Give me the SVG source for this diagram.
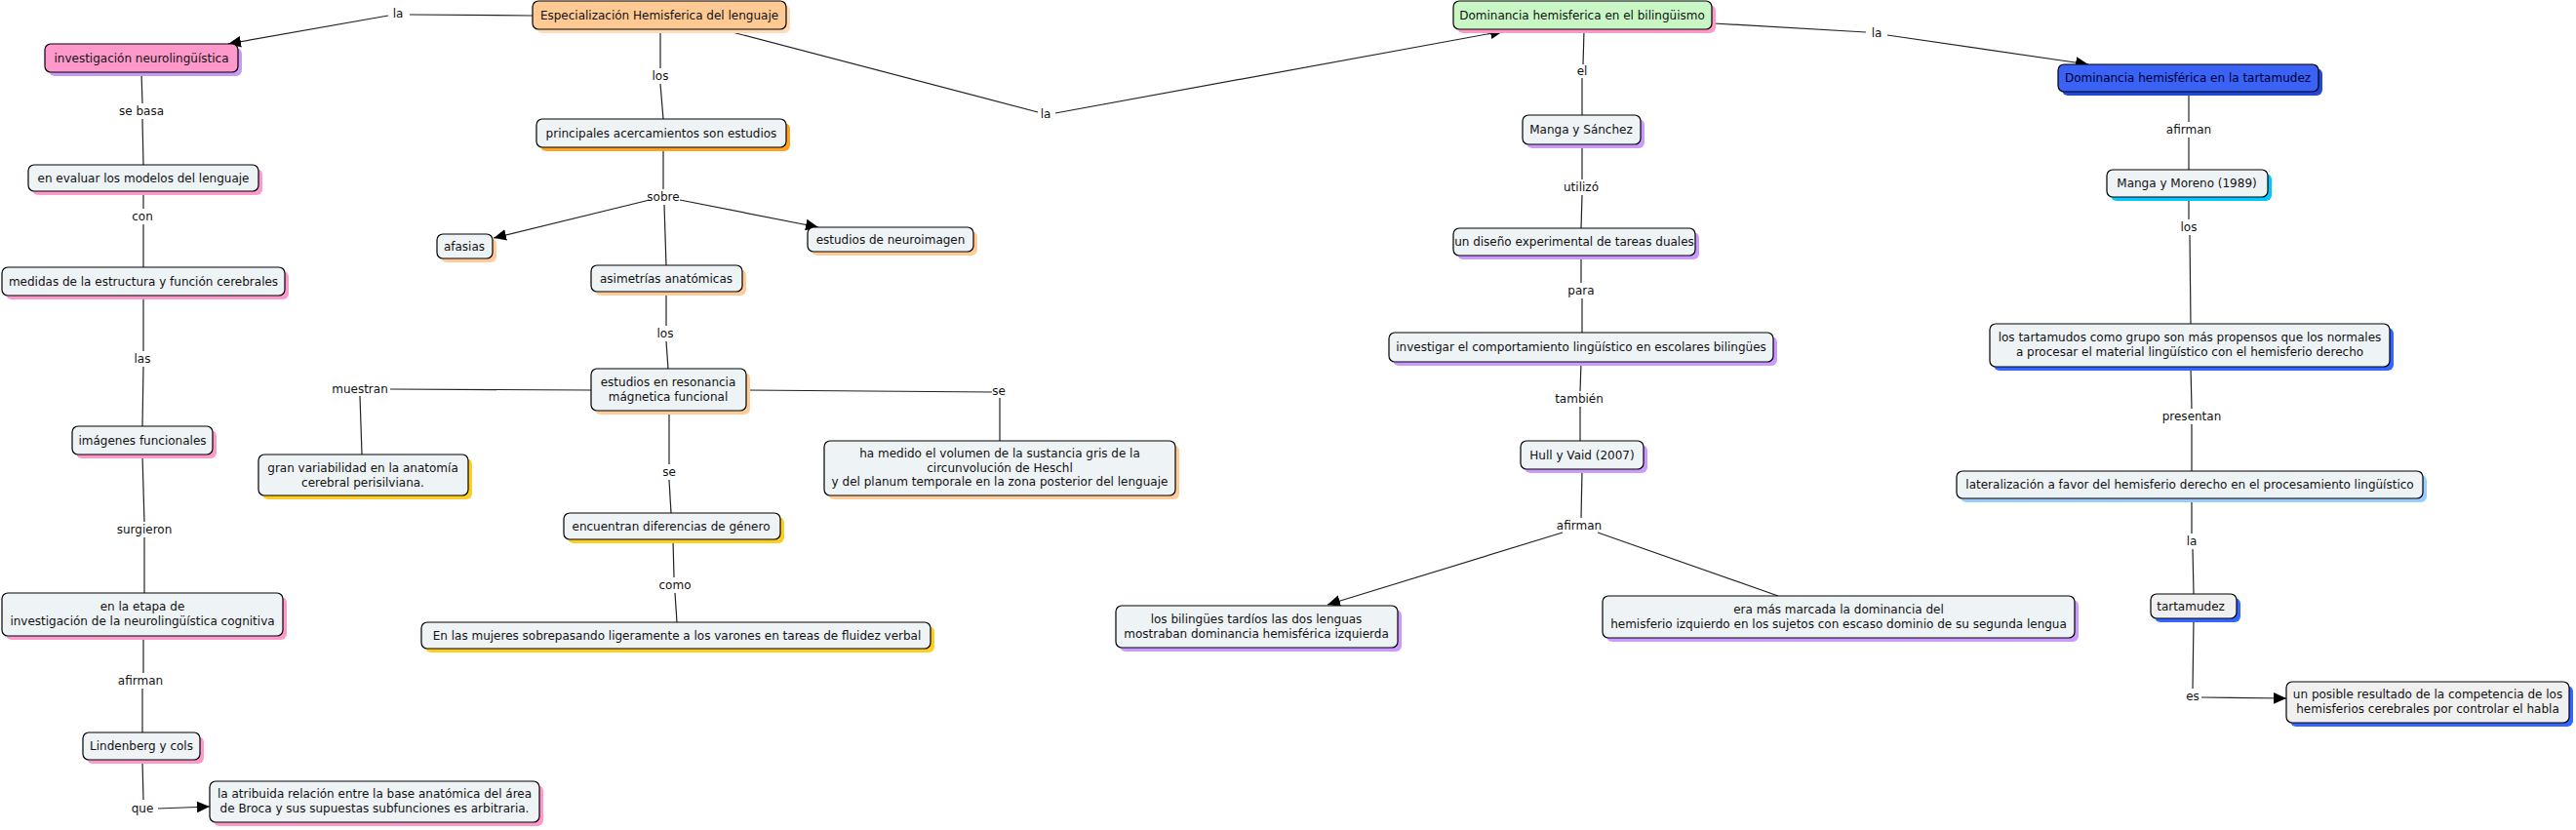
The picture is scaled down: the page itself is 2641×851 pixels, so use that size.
<svg xmlns="http://www.w3.org/2000/svg" width="2641" height="851" viewBox="0 0 2641 851">
<style>
text{font-family:"DejaVu Sans",Verdana,sans-serif;font-size:12px;fill:#111;text-anchor:middle}
.b{fill:#eef3f6;stroke:#000;stroke-width:1.2}
.s{stroke:none}
.c line{stroke:#222;stroke-width:1.2}
.lab{fill:#111}
</style>
<defs>
<marker id="arr" viewBox="0 0 10 10" refX="10" refY="5" markerWidth="13" markerHeight="13" markerUnits="userSpaceOnUse" orient="auto"><path d="M0,0.5 L10,5 L0,9.5 z" fill="#000"/></marker>
</defs>
<rect width="2641" height="851" fill="#fff"/>

<g id="connectors" class="c">
<line x1="546" y1="16" x2="420" y2="15"/>
<line x1="398" y1="16" x2="234" y2="45" marker-end="url(#arr)"/>
<line x1="677" y1="31" x2="677" y2="70"/>
<line x1="677" y1="86" x2="680" y2="122"/>
<line x1="680" y1="152" x2="680" y2="194"/>
<line x1="666" y1="205" x2="506" y2="244" marker-end="url(#arr)"/>
<line x1="697" y1="205" x2="839" y2="233" marker-end="url(#arr)"/>
<line x1="681" y1="210" x2="683" y2="272"/>
<line x1="683" y1="300" x2="683" y2="334"/>
<line x1="683" y1="350" x2="685" y2="378"/>
<line x1="606" y1="400" x2="400" y2="399"/>
<line x1="369" y1="406" x2="371" y2="466"/>
<line x1="766" y1="400" x2="1017" y2="402"/>
<line x1="1025" y1="408" x2="1025" y2="452"/>
<line x1="686" y1="422" x2="686" y2="476"/>
<line x1="686" y1="492" x2="688" y2="526"/>
<line x1="690" y1="554" x2="691" y2="592"/>
<line x1="692" y1="608" x2="694" y2="638"/>
<line x1="145" y1="75" x2="146" y2="106"/>
<line x1="146" y1="122" x2="147" y2="169"/>
<line x1="147" y1="197" x2="147" y2="214"/>
<line x1="147" y1="230" x2="147" y2="274"/>
<line x1="147" y1="304" x2="147" y2="360"/>
<line x1="147" y1="376" x2="146" y2="437"/>
<line x1="146" y1="467" x2="148" y2="535"/>
<line x1="148" y1="551" x2="148" y2="608"/>
<line x1="147" y1="653" x2="147" y2="690"/>
<line x1="146" y1="706" x2="146" y2="751"/>
<line x1="146" y1="780" x2="147" y2="820"/>
<line x1="162" y1="829" x2="215" y2="827" marker-end="url(#arr)"/>
<line x1="743" y1="31" x2="1064" y2="115"/>
<line x1="1082" y1="116" x2="1541" y2="32" marker-end="url(#arr)"/>
<line x1="1624" y1="31" x2="1623" y2="66"/>
<line x1="1622" y1="80" x2="1622" y2="118"/>
<line x1="1622" y1="149" x2="1622" y2="184"/>
<line x1="1622" y1="200" x2="1621" y2="234"/>
<line x1="1621" y1="263" x2="1621" y2="290"/>
<line x1="1622" y1="306" x2="1622" y2="341"/>
<line x1="1621" y1="372" x2="1620" y2="401"/>
<line x1="1620" y1="417" x2="1620" y2="452"/>
<line x1="1622" y1="482" x2="1621" y2="531"/>
<line x1="1602" y1="546" x2="1361" y2="620" marker-end="url(#arr)"/>
<line x1="1638" y1="546" x2="1823" y2="611"/>
<line x1="1757" y1="24" x2="1913" y2="33"/>
<line x1="1935" y1="36" x2="2141" y2="66" marker-end="url(#arr)"/>
<line x1="2244" y1="95" x2="2244" y2="125"/>
<line x1="2244" y1="141" x2="2244" y2="174"/>
<line x1="2244" y1="203" x2="2244" y2="225"/>
<line x1="2245" y1="241" x2="2246" y2="332"/>
<line x1="2246" y1="377" x2="2247" y2="419"/>
<line x1="2247" y1="435" x2="2247" y2="483"/>
<line x1="2247" y1="512" x2="2247" y2="547"/>
<line x1="2248" y1="563" x2="2249" y2="609"/>
<line x1="2249" y1="635" x2="2248" y2="706"/>
<line x1="2257" y1="715" x2="2344" y2="716" marker-end="url(#arr)"/>
</g>

<g id="labels" class="lab">
<text x="408" y="18">la</text>
<text x="677" y="82">los</text>
<text x="680" y="206">sobre</text>
<text x="682" y="346">los</text>
<text x="369" y="403">muestran</text>
<text x="1024" y="405">se</text>
<text x="686" y="488">se</text>
<text x="692" y="604">como</text>
<text x="145" y="118">se basa</text>
<text x="146" y="226">con</text>
<text x="146" y="372">las</text>
<text x="148" y="547">surgieron</text>
<text x="144" y="702">afirman</text>
<text x="146" y="833">que</text>
<text x="1072" y="121">la</text>
<text x="1622" y="77">el</text>
<text x="1621" y="196">utilizó</text>
<text x="1621" y="302">para</text>
<text x="1619" y="413">también</text>
<text x="1619" y="543">afirman</text>
<text x="1924" y="38">la</text>
<text x="2244" y="137">afirman</text>
<text x="2244" y="237">los</text>
<text x="2247" y="431">presentan</text>
<text x="2247" y="559">la</text>
<text x="2248" y="718">es</text>
</g>

<g id="n-esp"><rect class="s" x="550" y="5" width="260" height="29" rx="6" fill="#ffdcb5"/><rect x="546" y="1" width="260" height="29" rx="6" fill="#ffc993" stroke="#000" stroke-width="1.2"/><text x="676" y="20">Especialización Hemisferica del lenguaje</text></g>
<g id="n-inv"><rect class="s" x="50" y="49" width="198" height="29" rx="6" fill="#c69cf2"/><rect x="46" y="45" width="198" height="29" rx="6" fill="#ff99cc" stroke="#000" stroke-width="1.2"/><text x="145" y="64">investigación neurolingüística</text></g>
<g id="n-prin"><rect class="s" x="554" y="126" width="256" height="29" rx="6" fill="#ffa21f"/><rect class="b" x="550" y="122" width="256" height="29" rx="6"/><text x="678" y="141">principales acercamientos son estudios</text></g>
<g id="n-afa"><rect class="s" x="452" y="244" width="57" height="25" rx="6" fill="#ffcc99"/><rect class="b" x="448" y="240" width="57" height="25" rx="6"/><text x="476" y="257">afasias</text></g>
<g id="n-neuro"><rect class="s" x="832" y="237" width="170" height="25" rx="6" fill="#ffcc99"/><rect class="b" x="828" y="233" width="170" height="25" rx="6"/><text x="913" y="250">estudios de neuroimagen</text></g>
<g id="n-asim"><rect class="s" x="610" y="276" width="155" height="27" rx="6" fill="#ffcc99"/><rect class="b" x="606" y="272" width="155" height="27" rx="6"/><text x="683" y="290">asimetrías anatómicas</text></g>
<g id="n-reso"><rect class="s" x="610" y="382" width="159" height="43" rx="6" fill="#ffcc99"/><rect class="b" x="606" y="378" width="159" height="43" rx="6"/><text x="685" y="396">estudios en resonancia</text><text x="685" y="411">mágnetica funcional</text></g>
<g id="n-gran"><rect class="s" x="269" y="470" width="215" height="42" rx="6" fill="#ffcc22"/><rect class="b" x="265" y="466" width="215" height="42" rx="6"/><text x="372" y="484">gran variabilidad en la anatomía</text><text x="372" y="499">cerebral perisilviana.</text></g>
<g id="n-hamedido"><rect class="s" x="849" y="456" width="360" height="56" rx="6" fill="#ffcc99"/><rect class="b" x="845" y="452" width="360" height="56" rx="6"/><text x="1025" y="469">ha medido el volumen de la sustancia gris de la</text><text x="1025" y="484">circunvolución de Heschl</text><text x="1025" y="498">y del planum temporale en la zona posterior del lenguaje</text></g>
<g id="n-encu"><rect class="s" x="582" y="530" width="222" height="27" rx="6" fill="#ffcc22"/><rect class="b" x="578" y="526" width="222" height="27" rx="6"/><text x="688" y="544">encuentran diferencias de género</text></g>
<g id="n-mujeres"><rect class="s" x="436" y="642" width="522" height="27" rx="6" fill="#ffcc22"/><rect class="b" x="432" y="638" width="522" height="27" rx="6"/><text x="694" y="656"> En las mujeres sobrepasando ligeramente a los varones en tareas de fluidez verbal</text></g>
<g id="n-eval"><rect class="s" x="33" y="173" width="236" height="27" rx="6" fill="#ff99cc"/><rect class="b" x="29" y="169" width="236" height="27" rx="6"/><text x="147" y="187">en evaluar los modelos del lenguaje</text></g>
<g id="n-medidas"><rect class="s" x="6" y="278" width="290" height="29" rx="6" fill="#ff99cc"/><rect class="b" x="2" y="274" width="290" height="29" rx="6"/><text x="147" y="293">medidas de la estructura y función cerebrales</text></g>
<g id="n-imag"><rect class="s" x="78" y="441" width="144" height="29" rx="6" fill="#ff99cc"/><rect class="b" x="74" y="437" width="144" height="29" rx="6"/><text x="146" y="456">imágenes funcionales</text></g>
<g id="n-etapa"><rect class="s" x="6" y="612" width="288" height="44" rx="6" fill="#ff99cc"/><rect class="b" x="2" y="608" width="288" height="44" rx="6"/><text x="146" y="626">en la etapa de</text><text x="146" y="641">investigación de la neurolingüística cognitiva</text></g>
<g id="n-linden"><rect class="s" x="89" y="755" width="120" height="28" rx="6" fill="#ff99cc"/><rect class="b" x="85" y="751" width="120" height="28" rx="6"/><text x="145" y="769">Lindenberg y cols</text></g>
<g id="n-atrib"><rect class="s" x="219" y="805" width="338" height="42" rx="6" fill="#ff99cc"/><rect class="b" x="215" y="801" width="338" height="42" rx="6"/><text x="384" y="818">la atribuida relación entre la base anatómica del área</text><text x="384" y="833">de Broca y sus supuestas subfunciones es arbitraria.</text></g>
<g id="n-bil"><rect class="s" x="1494" y="5" width="265" height="29" rx="6" fill="#ff99cc"/><rect x="1490" y="1" width="265" height="29" rx="6" fill="#c8f7c5" stroke="#000" stroke-width="1.2"/><text x="1622" y="20">Dominancia hemisferica en el bilingüismo</text></g>
<g id="n-mangaS"><rect class="s" x="1565" y="122" width="121" height="30" rx="6" fill="#cc99ff"/><rect class="b" x="1561" y="118" width="121" height="30" rx="6"/><text x="1621" y="137">Manga y Sánchez</text></g>
<g id="n-diseno"><rect class="s" x="1494" y="238" width="248" height="28" rx="6" fill="#cc99ff"/><rect class="b" x="1490" y="234" width="248" height="28" rx="6"/><text x="1614" y="252">un diseño experimental de tareas duales</text></g>
<g id="n-invest"><rect class="s" x="1428" y="345" width="394" height="30" rx="6" fill="#cc99ff"/><rect class="b" x="1424" y="341" width="394" height="30" rx="6"/><text x="1621" y="360">investigar el comportamiento lingüístico en escolares bilingües</text></g>
<g id="n-hull"><rect class="s" x="1563" y="456" width="126" height="29" rx="6" fill="#cc99ff"/><rect class="b" x="1559" y="452" width="126" height="29" rx="6"/><text x="1622" y="471">Hull y Vaid (2007)</text></g>
<g id="n-bilingues"><rect class="s" x="1148" y="625" width="289" height="43" rx="6" fill="#cc99ff"/><rect class="b" x="1144" y="621" width="289" height="43" rx="6"/><text x="1288" y="639">los bilingües tardíos las dos lenguas</text><text x="1288" y="654">mostraban dominancia hemisférica izquierda</text></g>
<g id="n-eramas"><rect class="s" x="1647" y="615" width="484" height="43" rx="6" fill="#cc99ff"/><rect class="b" x="1643" y="611" width="484" height="43" rx="6"/><text x="1885" y="629">era más marcada la dominancia del</text><text x="1885" y="644">hemisferio izquierdo en los sujetos con escaso dominio de su segunda lengua</text></g>
<g id="n-domtart"><rect class="s" x="2114" y="70" width="267" height="28" rx="6" fill="#2448d6"/><rect x="2110" y="66" width="267" height="28" rx="6" fill="#3a62f5" stroke="#000" stroke-width="1.2"/><text x="2243" y="84" style="fill:#000033">Dominancia hemisférica en la tartamudez</text></g>
<g id="n-moreno"><rect class="s" x="2164" y="178" width="165" height="28" rx="6" fill="#00c8ff"/><rect class="b" x="2160" y="174" width="165" height="28" rx="6"/><text x="2242" y="192">Manga y Moreno (1989)</text></g>
<g id="n-tartamudos"><rect class="s" x="2044" y="336" width="410" height="44" rx="6" fill="#3366ff"/><rect class="b" x="2040" y="332" width="410" height="44" rx="6"/><text x="2245" y="350">los tartamudos como grupo son más propensos que los normales</text><text x="2245" y="365">a procesar el material lingüístico con el hemisferio derecho</text></g>
<g id="n-lateral"><rect class="s" x="2010" y="487" width="478" height="28" rx="6" fill="#99ccff"/><rect class="b" x="2006" y="483" width="478" height="28" rx="6"/><text x="2245" y="501">lateralización a favor del hemisferio derecho en el procesamiento lingüístico</text></g>
<g id="n-tart"><rect class="s" x="2209" y="613" width="88" height="25" rx="6" fill="#3366ff"/><rect x="2205" y="609" width="88" height="25" rx="6" fill="#f0f0f0" stroke="#000" stroke-width="1.2"/><text x="2246" y="626">tartamudez</text></g>
<g id="n-posible"><rect class="s" x="2348" y="703" width="290" height="42" rx="6" fill="#3366ff"/><rect x="2344" y="699" width="290" height="42" rx="6" fill="#f0f0f0" stroke="#000" stroke-width="1.2"/><text x="2489" y="716">un posible resultado de la competencia de los</text><text x="2489" y="731">hemisferios cerebrales por controlar el habla</text></g>
</svg>
